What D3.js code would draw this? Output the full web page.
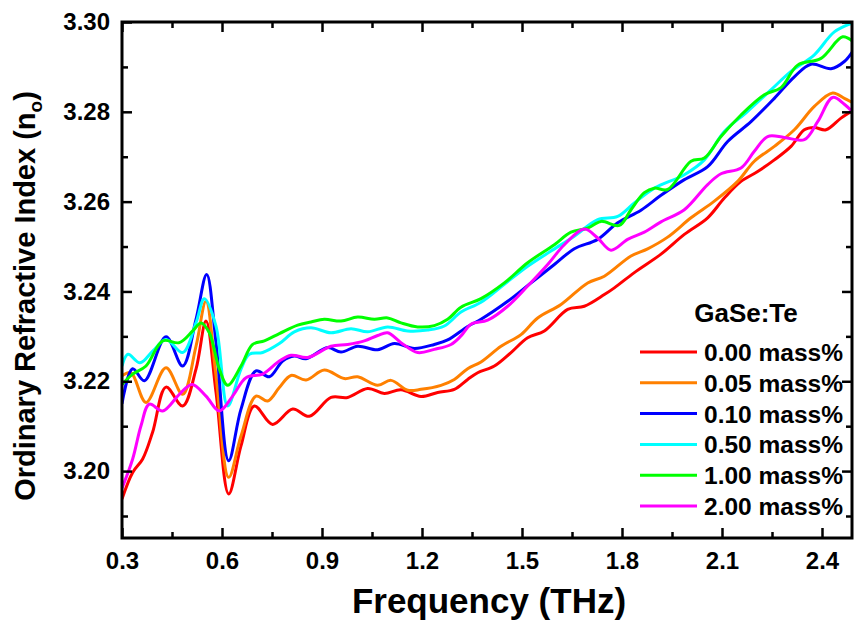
<!DOCTYPE html>
<html><head><meta charset="utf-8">
<script src="https://cdn.jsdelivr.net/npm/d3@7"></script>
<style>body{margin:0;background:#fff}text{font-family:"Liberation Sans",Arial,sans-serif;font-weight:bold}</style>
</head><body><svg id="c" width="854" height="628"></svg>
<script>
const seriesNames = ["0.00 mass%","0.05 mass%","0.10 mass%","0.50 mass%","1.00 mass%","2.00 mass%"];
const seriesColors = ["#ff0000","#ff8000","#0000ff","#00ffff","#00ff00","#ff00ff"];
const xTicks = [0.3,0.6,0.9,1.2,1.5,1.8,2.1,2.4];
const yTicks = [3.20,3.22,3.24,3.26,3.28,3.30];

const s000 = [[0.30,3.1938],[0.332,3.1997],[0.362,3.2027],[0.392,3.2087],[0.432,3.2187],[0.482,3.2145],[0.522,3.2227],[0.552,3.2334],[0.582,3.2176],[0.62,3.1949],[0.657,3.2056],[0.697,3.2145],[0.752,3.2104],[0.812,3.2138],[0.862,3.2122],[0.927,3.2164],[0.977,3.2164],[1.037,3.2184],[1.087,3.2173],[1.137,3.2181],[1.197,3.2166],[1.247,3.2175],[1.297,3.2182],[1.337,3.2204],[1.367,3.2219],[1.417,3.2234],[1.467,3.2264],[1.517,3.2297],[1.567,3.2312],[1.637,3.2360],[1.687,3.2367],[1.747,3.2393],[1.777,3.2408],[1.837,3.2442],[1.917,3.2483],[1.987,3.2527],[2.057,3.2564],[2.107,3.2608],[2.157,3.2645],[2.207,3.2667],[2.257,3.2693],[2.307,3.2723],[2.347,3.2760],[2.377,3.2765],[2.412,3.2760],[2.457,3.2786],[2.495,3.2804]];
const s005 = [[0.30,3.2212],[0.327,3.2219],[0.372,3.2153],[0.432,3.2230],[0.482,3.2171],[0.522,3.2278],[0.552,3.2378],[0.582,3.2212],[0.62,3.1986],[0.657,3.2078],[0.702,3.2167],[0.737,3.2156],[0.772,3.2186],[0.807,3.2213],[0.852,3.2203],[0.907,3.2225],[0.967,3.2206],[1.007,3.2210],[1.067,3.2191],[1.107,3.2202],[1.157,3.2180],[1.197,3.2182],[1.257,3.2191],[1.297,3.2204],[1.337,3.2228],[1.377,3.2243],[1.437,3.2278],[1.497,3.2304],[1.547,3.2341],[1.617,3.2371],[1.697,3.2419],[1.747,3.2434],[1.827,3.2479],[1.877,3.2495],[1.937,3.2521],[2.007,3.2564],[2.077,3.2601],[2.147,3.2645],[2.197,3.2690],[2.257,3.2723],[2.317,3.2760],[2.377,3.2812],[2.432,3.2842],[2.467,3.2830],[2.495,3.2819]];
const s010 = [[0.30,3.2150],[0.332,3.2228],[0.367,3.2201],[0.432,3.2299],[0.482,3.2234],[0.522,3.2338],[0.554,3.2438],[0.582,3.2286],[0.62,3.2023],[0.657,3.2138],[0.702,3.2223],[0.742,3.2210],[0.782,3.2245],[0.817,3.2256],[0.852,3.2250],[0.917,3.2275],[0.957,3.2265],[1.007,3.2278],[1.067,3.2270],[1.117,3.2284],[1.177,3.2273],[1.237,3.2282],[1.277,3.2292],[1.337,3.2322],[1.377,3.2338],[1.457,3.2378],[1.527,3.2419],[1.597,3.2460],[1.657,3.2495],[1.727,3.2516],[1.787,3.2553],[1.857,3.2581],[1.917,3.2614],[1.987,3.2649],[2.057,3.2678],[2.117,3.2734],[2.187,3.2778],[2.257,3.2830],[2.317,3.2878],[2.367,3.2906],[2.427,3.2896],[2.467,3.2912],[2.495,3.2938]];
const s050 = [[0.30,3.2234],[0.318,3.2260],[0.354,3.2241],[0.392,3.2267],[0.432,3.2293],[0.482,3.2264],[0.522,3.2330],[0.547,3.2384],[0.582,3.2323],[0.617,3.2145],[0.657,3.2227],[0.682,3.2260],[0.722,3.2264],[0.772,3.2284],[0.817,3.2310],[0.867,3.2319],[0.927,3.2308],[0.987,3.2317],[1.037,3.2310],[1.097,3.2321],[1.157,3.2312],[1.217,3.2314],[1.267,3.2323],[1.317,3.2354],[1.377,3.2376],[1.447,3.2416],[1.517,3.2456],[1.587,3.2490],[1.657,3.2523],[1.727,3.2560],[1.787,3.2567],[1.837,3.2597],[1.897,3.2630],[1.987,3.2660],[2.047,3.2693],[2.107,3.2756],[2.177,3.2801],[2.247,3.2849],[2.307,3.2890],[2.377,3.2927],[2.437,3.2978],[2.495,3.2999]];
const s100 = [[0.30,3.2193],[0.332,3.2216],[0.372,3.2234],[0.422,3.2290],[0.472,3.2286],[0.512,3.2312],[0.537,3.2330],[0.562,3.2308],[0.592,3.2227],[0.617,3.2191],[0.657,3.2234],[0.692,3.2282],[0.727,3.2290],[0.772,3.2306],[0.827,3.2325],[0.867,3.2332],[0.907,3.2338],[0.957,3.2334],[1.007,3.2343],[1.057,3.2338],[1.097,3.2341],[1.137,3.2330],[1.187,3.2321],[1.237,3.2324],[1.277,3.2338],[1.317,3.2365],[1.377,3.2384],[1.447,3.2419],[1.517,3.2464],[1.597,3.2504],[1.647,3.2532],[1.697,3.2541],[1.737,3.2556],[1.792,3.2547],[1.827,3.2582],[1.867,3.2620],[1.897,3.2630],[1.937,3.2627],[2.007,3.2690],[2.047,3.2697],[2.097,3.2745],[2.157,3.2793],[2.227,3.2838],[2.277,3.2854],[2.327,3.2904],[2.397,3.2919],[2.462,3.2967],[2.495,3.2955]];
const s200 = [[0.30,3.1962],[0.332,3.2027],[0.357,3.2101],[0.382,3.2149],[0.422,3.2134],[0.472,3.2171],[0.51,3.2193],[0.552,3.2167],[0.592,3.2134],[0.632,3.2167],[0.672,3.2208],[0.722,3.2216],[0.772,3.2245],[0.807,3.2258],[0.857,3.2253],[0.927,3.2278],[0.977,3.2282],[1.027,3.2290],[1.067,3.2302],[1.097,3.2308],[1.137,3.2286],[1.187,3.2264],[1.237,3.2271],[1.287,3.2282],[1.317,3.2301],[1.347,3.2327],[1.397,3.2336],[1.457,3.2367],[1.517,3.2412],[1.577,3.2460],[1.627,3.2504],[1.687,3.2539],[1.727,3.2519],[1.767,3.2492],[1.817,3.2516],[1.867,3.2532],[1.917,3.2555],[1.987,3.2582],[2.057,3.2638],[2.097,3.2662],[2.157,3.2675],[2.197,3.2712],[2.237,3.2745],[2.287,3.2743],[2.347,3.2738],[2.387,3.2778],[2.432,3.2832],[2.467,3.2817],[2.495,3.2797]];
const allSeries = [s000,s005,s010,s050,s100,s200];

const W = 854, H = 628;
const m = {l:122, t:22, r:2, b:90};
const x = d3.scaleLinear().domain([0.3, 2.49]).range([m.l, W - m.r]);
const y = d3.scaleLinear().domain([3.1851, 3.30]).range([H - m.b, m.t]);
const svg = d3.select("#c");

svg.append("clipPath").attr("id","clip").append("rect")
  .attr("x", m.l).attr("y", m.t).attr("width", W-m.r-m.l).attr("height", H-m.b-m.t);

const line = d3.line().x(d=>x(d[0])).y(d=>y(d[1])).curve(d3.curveCatmullRom.alpha(0.5));
const g = svg.append("g").attr("clip-path","url(#clip)");
allSeries.forEach((s,i)=>{
  g.append("path").attr("d", line(s)).attr("fill","none")
   .attr("stroke", seriesColors[i]).attr("stroke-width",3).attr("stroke-linejoin","round");
});

const xMinor = d3.range(0.45, 2.49, 0.3);
const yMinor = [3.19,3.21,3.23,3.25,3.27,3.29];
function styleAxis(sel){ sel.select(".domain").remove(); sel.selectAll("line").attr("stroke","#000").attr("stroke-width",2.5); sel.selectAll("text").attr("fill","#000").style("font-size","24px").style("font-family","'Liberation Sans',Arial,sans-serif").style("font-weight","bold"); }
// bottom
svg.append("g").attr("transform",`translate(0,${H-m.b})`)
  .call(d3.axisBottom(x).tickValues(xTicks).tickFormat(d3.format(".1f")).tickSizeInner(-10).tickSizeOuter(0).tickPadding(14))
  .call(styleAxis);
svg.append("g").attr("transform",`translate(0,${H-m.b})`)
  .call(d3.axisBottom(x).tickValues(xMinor).tickFormat("").tickSizeInner(-6).tickSizeOuter(0)).call(styleAxis);
// top
svg.append("g").attr("transform",`translate(0,${m.t})`)
  .call(d3.axisTop(x).tickValues(xTicks).tickFormat("").tickSizeInner(-10).tickSizeOuter(0)).call(styleAxis);
svg.append("g").attr("transform",`translate(0,${m.t})`)
  .call(d3.axisTop(x).tickValues(xMinor).tickFormat("").tickSizeInner(-6).tickSizeOuter(0)).call(styleAxis);
// left
svg.append("g").attr("transform",`translate(${m.l},0)`)
  .call(d3.axisLeft(y).tickValues(yTicks).tickFormat(d3.format(".2f")).tickSizeInner(-10).tickSizeOuter(0).tickPadding(12))
  .call(styleAxis);
svg.append("g").attr("transform",`translate(${m.l},0)`)
  .call(d3.axisLeft(y).tickValues(yMinor).tickFormat("").tickSizeInner(-6).tickSizeOuter(0)).call(styleAxis);
// right
svg.append("g").attr("transform",`translate(${W-m.r},0)`)
  .call(d3.axisRight(y).tickValues(yTicks).tickFormat("").tickSizeInner(-10).tickSizeOuter(0)).call(styleAxis);
svg.append("g").attr("transform",`translate(${W-m.r},0)`)
  .call(d3.axisRight(y).tickValues(yMinor).tickFormat("").tickSizeInner(-6).tickSizeOuter(0)).call(styleAxis);

svg.append("rect").attr("x",m.l).attr("y",m.t).attr("width",W-m.r-m.l).attr("height",H-m.b-m.t)
  .attr("fill","none").attr("stroke","#000").attr("stroke-width",3);

// axis titles
svg.append("text").attr("x",489).attr("y",613).attr("text-anchor","middle")
  .style("font-size","35px").text("Frequency (THz)");
const yt = svg.append("text").attr("transform",`translate(35,296) rotate(-90)`)
  .attr("text-anchor","middle").style("font-size","29px");
yt.append("tspan").text("Ordinary Refractive Index (n");
yt.append("tspan").attr("dy",7).style("font-size","19px").text("o");
yt.append("tspan").attr("dy",-7).text(")");

// legend
svg.append("text").attr("x",746).attr("y",322).attr("text-anchor","middle").style("font-size","26px").text("GaSe:Te");
seriesNames.forEach((n,i)=>{
  const ly = 352 + i*30.8;
  svg.append("line").attr("x1",640).attr("x2",697).attr("y1",ly).attr("y2",ly)
    .attr("stroke",seriesColors[i]).attr("stroke-width",3);
  svg.append("text").attr("x",704).attr("y",ly+9).style("font-size","24.5px").text(n);
});
</script></body></html>
